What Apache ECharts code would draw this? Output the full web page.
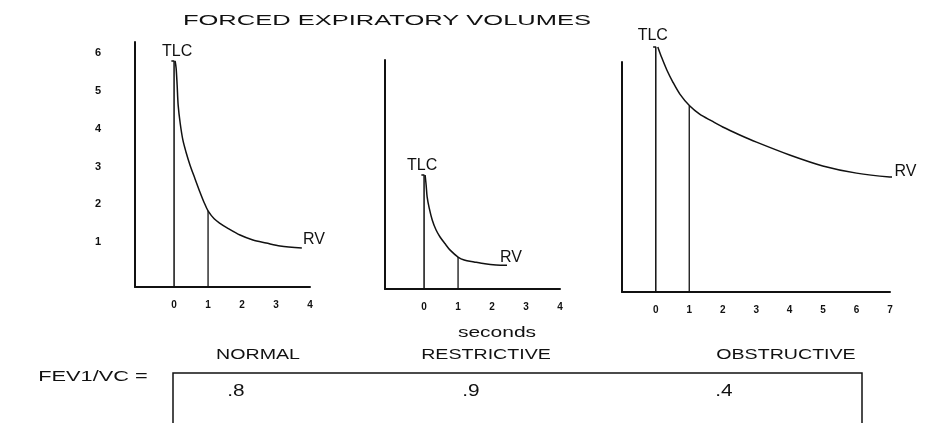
<!doctype html>
<html>
<head>
    <meta charset="utf-8">
    <title>Forced expiratory volumes</title>
    <script src="https://cdn.jsdelivr.net/npm/echarts@6/dist/echarts.min.js"></script>
    <style>
        html, body { margin: 0; padding: 0; background: #fff; }
        #main { width: 930px; height: 423px; }
    </style>
</head>
<body>
<div id="main"></div>
<script>
    // values (seconds, litres)
    var categories = ['NORMAL', 'RESTRICTIVE', 'OBSTRUCTIVE'];
    var ratioLabels = ['.8', '.9', '.4'];
    var tlcValues = [5.8, 2.83, 6.3];
    var fev1Values = [1.83, 0.66, 4.74];
    var volumeTicks = [1, 2, 3, 4, 5, 6];
    var shortSeconds = [0, 1, 2, 3, 4];
    var longSeconds = [0, 1, 2, 3, 4, 5, 6, 7];

    var normalCurve = [[0.03, 5.8], [0.06, 5.61], [0.09, 5.16], [0.12, 4.63], [0.18, 4.15], [0.26, 3.7],
        [0.35, 3.39], [0.47, 3.04], [0.62, 2.67], [0.76, 2.33], [0.88, 2.06], [1.0, 1.83], [1.18, 1.62],
        [1.35, 1.5], [1.56, 1.38], [1.94, 1.19], [2.32, 1.06], [2.71, 0.98], [3.12, 0.9], [3.76, 0.85]];
    var restrictiveCurve = [[0.03, 2.83], [0.06, 2.57], [0.09, 2.25], [0.15, 1.96], [0.24, 1.64],
        [0.35, 1.38], [0.47, 1.19], [0.62, 1.01], [0.76, 0.85], [1.0, 0.66], [1.18, 0.58], [1.47, 0.53],
        [1.79, 0.48], [2.12, 0.45], [2.44, 0.44]];
    var obstructiveCurve = [[0.06, 6.3], [0.18, 6.01], [0.33, 5.69], [0.51, 5.37], [0.72, 5.05],
        [1.01, 4.74], [1.31, 4.52], [1.67, 4.34], [2.0, 4.18], [2.51, 3.97], [3.01, 3.78], [4.0, 3.44],
        [4.99, 3.15], [6.0, 2.96], [6.99, 2.86], [7.88, 2.82]];

    var curves = [normalCurve, restrictiveCurve, obstructiveCurve];

    var yMin = -0.185;
    var FONT = '"Liberation Sans", Arial, sans-serif';
    var INK = '#111';

    // panel frames in pixels, and the shown range of each axis
    var frames = [
        {left: 135, top: 42, width: 175, height: 245, xMin: -1.15, xMax: 4, yMax: 6.3, ticks: shortSeconds},
        {left: 385, top: 60, width: 175, height: 229, xMin: -1.15, xMax: 4, yMax: 5.87, ticks: shortSeconds},
        {left: 622, top: 62, width: 268, height: 230, xMin: -1.01, xMax: 7, yMax: 5.9, ticks: longSeconds}
    ];
    // where the TLC / RV words sit relative to their points
    var tlcOffset = [[3, 4], [-2, 4], [-3, 2]];
    var rvOffset = [[12, 5], [4, 5], [-14, 6]];

    var myChart = echarts.init(document.getElementById('main'), null, {renderer: 'canvas'});

    var grids = [], xAxes = [], yAxes = [], series = [];

    frames.forEach(function (f, i) {
        grids.push({left: f.left, top: f.top, width: f.width, height: f.height,
            containLabel: false, outerBoundsMode: 'none'});

        xAxes.push({
            type: 'value', gridIndex: i, min: f.xMin, max: f.xMax,
            axisLine: {show: true, onZero: false, lineStyle: {color: INK, width: 2}},
            axisTick: {show: false},
            splitLine: {show: false},
            axisLabel: {
                customValues: f.ticks, margin: 13,
                color: INK, fontSize: 10, fontWeight: 'bold', fontFamily: FONT
            }
        });

        yAxes.push({
            type: 'value', gridIndex: i, min: yMin, max: f.yMax,
            axisLine: {show: true, onZero: false, lineStyle: {color: INK, width: 2}},
            axisTick: {show: false},
            splitLine: {show: false},
            axisLabel: {
                show: i === 0, customValues: volumeTicks, margin: 34,
                color: INK, fontSize: 11, fontWeight: 'bold', fontFamily: FONT
            }
        });

        var pts = curves[i];
        var last = pts.length - 1;
        var curveData = pts.map(function (p, k) {
            if (k !== last) return p;
            return {
                value: p,
                label: {show: true, formatter: 'RV', position: 'top', offset: rvOffset[i]}
            };
        });

        series.push({
            type: 'line', xAxisIndex: i, yAxisIndex: i,
            data: curveData,
            smooth: 0.3,
            clip: false,
            showSymbol: true, symbolSize: 0,
            lineStyle: {color: INK, width: 1.5},
            label: {show: false, color: INK, fontSize: 16, fontFamily: FONT},
            silent: true
        });

        // start of the blow at TLC, with the little flat top
        series.push({
            type: 'line', xAxisIndex: i, yAxisIndex: i,
            data: [[0, yMin], {
                value: [0, tlcValues[i]],
                label: {show: true, formatter: 'TLC', position: 'top', offset: tlcOffset[i]}
            }, [-0.08, tlcValues[i]]],
            clip: false,
            showSymbol: true, symbolSize: 0,
            lineStyle: {color: INK, width: 1.5},
            label: {show: false, color: INK, fontSize: 16, fontFamily: FONT},
            silent: true
        });

        // volume after one second
        series.push({
            type: 'line', xAxisIndex: i, yAxisIndex: i,
            data: [[1, yMin], [1, fev1Values[i]]],
            symbol: 'none',
            lineStyle: {color: INK, width: 1.3},
            silent: true
        });
    });

    function wideText(x, y, text, size, stretch) {
        return {
            type: 'text', x: x, y: y, scaleX: stretch, silent: true,
            style: {
                text: text, fill: INK, font: size + 'px ' + FONT,
                align: 'center', verticalAlign: 'middle'
            }
        };
    }

    var catX = [258, 486, 786];
    var ratioX = [236, 471, 724];

    var graphics = [
        wideText(387, 21, 'FORCED EXPIRATORY VOLUMES', 15, 1.7),
        wideText(497, 333, 'seconds', 14, 1.5),
        wideText(93, 377, 'FEV1/VC =', 15, 1.45),
        {
            type: 'polyline', silent: true,
            shape: {points: [[173, 423], [173, 373], [862, 373], [862, 423]]},
            style: {stroke: INK, lineWidth: 1.5, fill: null}
        }
    ];
    categories.forEach(function (c, i) {
        graphics.push(wideText(catX[i], 355, c, 14, 1.4));
        graphics.push(wideText(ratioX[i], 392, ratioLabels[i], 16, 1.3));
    });

    var option = {
        backgroundColor: '#fff',
        animation: false,
        grid: grids,
        xAxis: xAxes,
        yAxis: yAxes,
        series: series,
        graphic: graphics
    };

    myChart.setOption(option);
</script>
</body>
</html>
